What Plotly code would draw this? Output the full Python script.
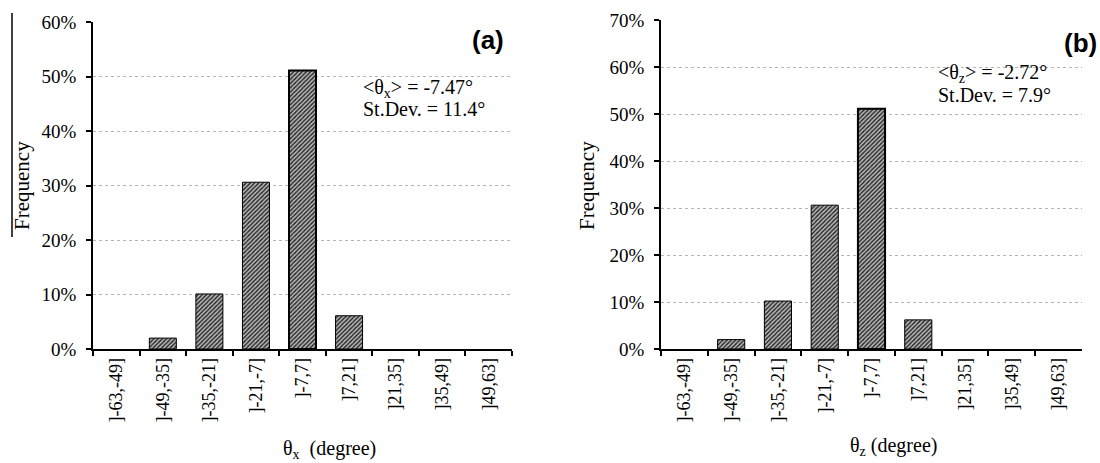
import plotly.graph_objects as go

categories = ["]-63,-49]", "]-49,-35]", "]-35,-21]", "]-21,-7]", "]-7,7]",
              "]7,21]", "]21,35]", "]35,49]", "]49,63]"]
freq_x = [0.0, 0.020, 0.101, 0.306, 0.511, 0.061, 0.0, 0.0, 0.0]
freq_z = [0.0, 0.020, 0.102, 0.306, 0.511, 0.062, 0.0, 0.0, 0.0]
yticks_a = [0, 0.1, 0.2, 0.3, 0.4, 0.5, 0.6]
yticks_b = [0, 0.1, 0.2, 0.3, 0.4, 0.5, 0.6, 0.7]

W, H = 1100, 463
SERIF = "Liberation Serif"
SANS = "Liberation Sans"

def px(x):
    return x / W

def py(y):
    return 1 - y / H

def bar(vals, xa, ya):
    vmax = max(vals)
    widths = [0 if v == 0 else (2 if v == vmax else 1) for v in vals]
    return go.Bar(
        x=categories, y=vals, xaxis=xa, yaxis=ya, showlegend=False,
        hoverinfo="x+y",
        marker=dict(
            color="#9a9a9a",
            pattern=dict(shape="/", fgcolor="#222222", bgcolor="#b8b8b8",
                         size=3, solidity=0.45, fillmode="replace"),
            line=dict(color="black", width=widths),
        ),
    )

fig = go.Figure()
fig.add_trace(bar(freq_x, "x", "y"))
fig.add_trace(bar(freq_z, "x2", "y2"))

xcommon = dict(
    type="category", showline=True, linecolor="black", linewidth=1.5,
    ticks="outside", ticklen=5, tickcolor="black", tickwidth=1.5,
    tickson="boundaries", tickangle=-90, showgrid=False, automargin=False,
    tickfont=dict(family=SERIF, size=18, color="black"),
)
ycommon = dict(
    showline=True, linecolor="black", linewidth=1.5, ticks="outside",
    ticklen=5, tickcolor="black", tickwidth=1.5, tickformat=".0%",
    showgrid=True, gridcolor="#b5b5b5", griddash="dot", gridwidth=1,
    zeroline=False, ticklabelstandoff=6, automargin=False,
    tickfont=dict(family=SERIF, size=19, color="black"),
)

fig.update_layout(
    width=W, height=H, margin=dict(l=0, r=0, t=0, b=0, autoexpand=False),
    paper_bgcolor="white", plot_bgcolor="white", bargap=0.42,
    xaxis=dict(domain=[px(93), px(512)], anchor="y", **xcommon),
    yaxis=dict(domain=[py(349), py(22)], anchor="x", range=[0, 0.6],
               tickvals=yticks_a, **ycommon),
    xaxis2=dict(domain=[px(661), px(1082)], anchor="y2", **xcommon),
    yaxis2=dict(domain=[py(349), py(20)], anchor="x2", range=[0, 0.7],
                tickvals=yticks_b, **ycommon),
)

ann = []
def text(x, y, s, size=20, family=SERIF, xanchor="center", angle=0):
    ann.append(dict(x=px(x), y=py(y), xref="paper", yref="paper", text=s,
                    showarrow=False, xanchor=xanchor, yanchor="middle",
                    textangle=angle,
                    font=dict(family=family, size=size, color="black")))

text(22, 186, "Frequency", size=21, angle=-90)
text(587, 186, "Frequency", size=21, angle=-90)
text(329, 449, "θ<sub>x</sub>  (degree)")
text(893, 446, "θ<sub>z</sub> (degree)")
text(361, 88, "&lt;θ<sub>x</sub>&gt; = -7.47°", xanchor="left")
text(361, 109, "St.Dev. = 11.4°", xanchor="left")
text(936, 73, "&lt;θ<sub>z</sub>&gt; = -2.72°", xanchor="left")
text(936, 95, "St.Dev. = 7.9°", xanchor="left")
text(506, 40, "<b>(a)</b>", size=26, family=SANS, xanchor="right")
text(1062, 43, "<b>(b)</b>", size=26, family=SANS, xanchor="left")
fig.update_layout(annotations=ann)

fig.add_shape(type="line", xref="paper", yref="paper",
              x0=px(12), x1=px(12), y0=py(13), y1=py(237),
              line=dict(color="black", width=1.5))

fig.write_html("out.html", config={"displayModeBar": False},
               post_script="document.body.style.margin='0px';"
                           "document.body.style.overflow='hidden';")
